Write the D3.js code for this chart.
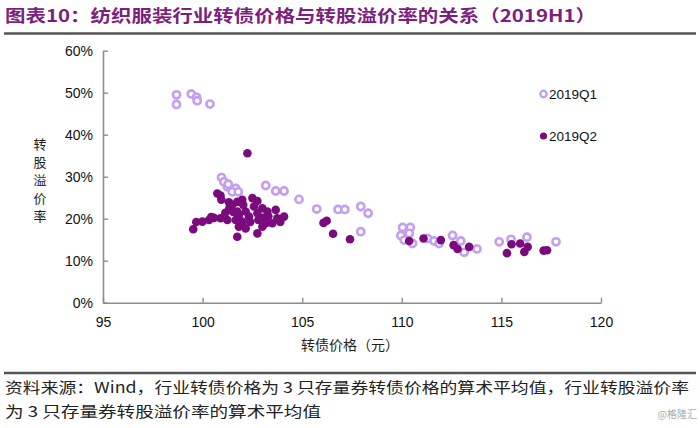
<!DOCTYPE html>
<html><head><meta charset="utf-8">
<script src="https://cdn.jsdelivr.net/npm/d3@7"></script>
<style>
html,body{margin:0;padding:0;background:#fff;}
svg{display:block;}
</style></head>
<body>
<script>
// ---- data ----
const titleText = "图表10：纺织服装行业转债价格与转股溢价率的关系（2019H1）";
const xTicks = [95, 100, 105, 110, 115, 120];
const yTicks = [0, 0.1, 0.2, 0.3, 0.4, 0.5, 0.6];
const seriesNames = ["2019Q1", "2019Q2"];
// 2019Q1: price (元) and conversion premium
const q1Price = [98.69,98.69,99.43,99.70,99.73,100.37,100.95,101.07,101.24,101.66,101.49,101.29,101.79,103.17,103.67,104.09,104.84,105.73,106.80,107.14,107.94,108.31,107.94,110.04,110.43,109.95,110.37,110.12,110.54,111.29,111.62,111.87,112.55,112.96,113.13,113.77,114.89,115.48,116.28,117.74];
const q1Prem  = [0.495,0.472,0.497,0.489,0.481,0.473,0.298,0.288,0.276,0.272,0.264,0.282,0.264,0.279,0.266,0.266,0.246,0.223,0.222,0.222,0.229,0.213,0.169,0.179,0.179,0.160,0.165,0.149,0.141,0.153,0.147,0.141,0.160,0.147,0.120,0.128,0.145,0.151,0.156,0.145];
// 2019Q2
const q2Price = [102.25,99.53,100.74,100.90,101.32,101.49,101.74,101.99,102.50,102.75,102.58,102.16,101.82,102.33,102.75,103.00,103.25,103.67,103.75,103.50,104.09,103.17,103.00,102.75,102.16,101.82,101.74,101.99,101.66,101.24,100.90,100.57,100.32,99.99,101.74,101.34,101.54,102.04,102.39,102.80,103.30,103.90,103.00,101.14,100.94,99.68,100.43,106.07,106.23,106.55,107.40,110.37,111.09,111.96,112.60,112.80,113.38,115.51,115.28,115.94,116.32,116.15,117.12,117.29];
const q2Prem  = [0.356,0.175,0.260,0.255,0.239,0.233,0.240,0.245,0.249,0.242,0.229,0.217,0.209,0.205,0.213,0.202,0.217,0.221,0.201,0.189,0.205,0.189,0.181,0.165,0.177,0.181,0.157,0.193,0.197,0.197,0.201,0.202,0.197,0.193,0.217,0.225,0.216,0.233,0.192,0.197,0.206,0.192,0.225,0.214,0.245,0.192,0.204,0.190,0.195,0.164,0.151,0.147,0.153,0.149,0.137,0.128,0.133,0.139,0.118,0.141,0.133,0.121,0.124,0.125];
const xLabel = "转债价格（元）";
const yLabel = ["转","股","溢","价","率"];
const sourceLines = ["资料来源：Wind，行业转债价格为 3 只存量券转债价格的算术平均值，行业转股溢价率",
                     "为 3 只存量券转股溢价率的算术平均值"];
const watermark = "@格隆汇";

// ---- drawing ----
const W = 700, H = 428;
const c1 = "#c49ff0", c2 = "#7b0a7e", axisColor = "#8c8c8c";
const cjk = "'Noto Sans CJK SC', 'Noto Sans', sans-serif";
const latin = "Arial, 'Liberation Sans', sans-serif";

const svg = d3.select("body").append("svg").attr("width", W).attr("height", H);

// title
svg.append("text").attr("x", 5).attr("y", 22)
  .attr("font-family", cjk).attr("font-weight", "bold").attr("font-size", 17)
  .attr("fill", "#7d1f80").attr("textLength", 591).attr("lengthAdjust", "spacingAndGlyphs")
  .text(titleText);
svg.append("line").attr("x1", 4).attr("x2", 696).attr("y1", 33.5).attr("y2", 33.5)
  .attr("stroke", "#555").attr("stroke-width", 2.5);

const x = d3.scaleLinear().domain([95, 120]).range([103, 601]);
const y = d3.scaleLinear().domain([0, 0.6]).range([302.7, 50.7]);

// axes (ticks inside)
const gx = svg.append("g").attr("transform", `translate(0,${y(0)})`)
  .call(d3.axisBottom(x).tickValues(xTicks).tickSizeInner(-5).tickSizeOuter(0).tickPadding(12).tickFormat(d3.format("d")));
const gy = svg.append("g").attr("transform", `translate(${x(95)},0)`)
  .call(d3.axisLeft(y).tickValues(yTicks).tickSizeInner(-5).tickSizeOuter(0).tickPadding(10).tickFormat(d3.format(".0%")));
[gx, gy].forEach(g => {
  g.select(".domain").attr("stroke", axisColor).attr("stroke-width", 1.6);
  g.selectAll(".tick line").attr("stroke", axisColor).attr("stroke-width", 1.4);
  g.selectAll(".tick text").attr("font-family", latin).attr("font-size", 14).attr("fill", "#111");
});
gx.selectAll(".tick text").attr("dy", "0.9em");

// points
svg.append("g").selectAll("circle").data(q1Price.map((p, i) => [p, q1Prem[i]]))
  .join("circle").attr("cx", d => x(d[0])).attr("cy", d => y(d[1])).attr("r", 3.6)
  .attr("fill", "#fff").attr("stroke", c1).attr("stroke-width", 2.6);
svg.append("g").selectAll("circle").data(q2Price.map((p, i) => [p, q2Prem[i]]))
  .join("circle").attr("cx", d => x(d[0])).attr("cy", d => y(d[1])).attr("r", 4.3)
  .attr("fill", c2);

// legend
const leg = svg.append("g");
leg.append("circle").attr("cx", 543.5).attr("cy", 94).attr("r", 3.2).attr("fill", "#fff").attr("stroke", c1).attr("stroke-width", 2.4);
leg.append("circle").attr("cx", 543.5).attr("cy", 136).attr("r", 3.6).attr("fill", c2);
leg.append("text").attr("x", 549).attr("y", 99).attr("font-family", latin).attr("font-size", 13.5).attr("fill", "#111").text(seriesNames[0]);
leg.append("text").attr("x", 549).attr("y", 141).attr("font-family", latin).attr("font-size", 13.5).attr("fill", "#111").text(seriesNames[1]);

// axis labels
svg.append("text").attr("x", 350).attr("y", 350).attr("text-anchor", "middle")
  .attr("font-family", cjk).attr("font-size", 14).attr("fill", "#222").text(xLabel);
svg.append("g").selectAll("text").data(yLabel).join("text")
  .attr("x", 40).attr("y", (d, i) => 149 + i * 18).attr("text-anchor", "middle")
  .attr("font-family", cjk).attr("font-size", 13).attr("fill", "#222").text(d => d);

// footer
svg.append("line").attr("x1", 4).attr("x2", 696).attr("y1", 373).attr("y2", 373)
  .attr("stroke", "#555").attr("stroke-width", 2.5);
svg.append("text").attr("x", 5).attr("y", 393).attr("font-family", cjk).attr("font-size", 15)
  .attr("fill", "#222").attr("textLength", 684).attr("lengthAdjust", "spacingAndGlyphs").text(sourceLines[0]);
svg.append("text").attr("x", 5).attr("y", 417).attr("font-family", cjk).attr("font-size", 15)
  .attr("fill", "#222").attr("textLength", 316).attr("lengthAdjust", "spacingAndGlyphs").text(sourceLines[1]);
svg.append("text").attr("x", 697).attr("y", 418).attr("text-anchor", "end").attr("font-family", cjk)
  .attr("font-size", 10).attr("fill", "#aaa").text(watermark);
</script>
</body></html>
